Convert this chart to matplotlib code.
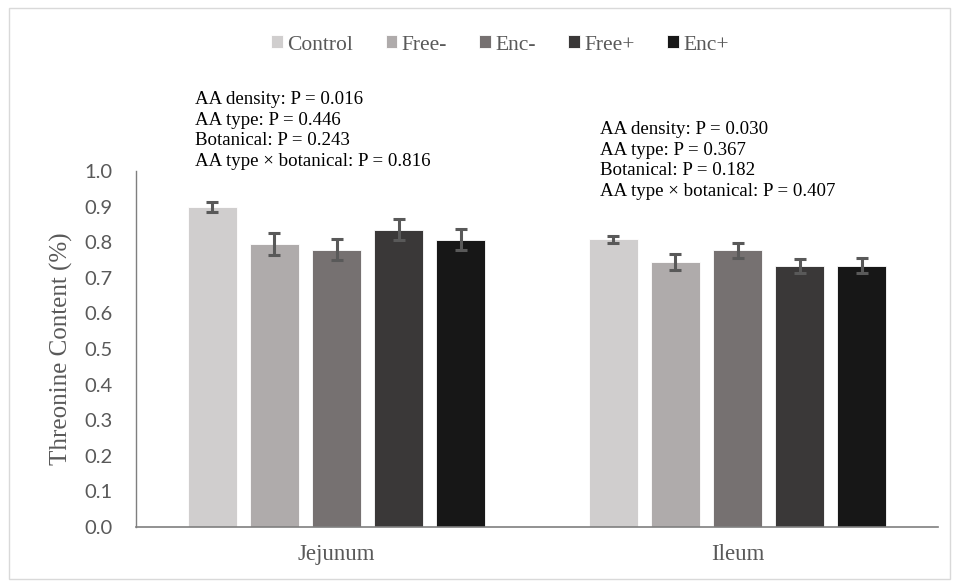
import numpy as np
import matplotlib
matplotlib.use('Agg')
import matplotlib.pyplot as plt
from matplotlib.patches import Rectangle

# data
sites = ['Jejunum', 'Ileum']
treatments = ['Control', 'Free-', 'Enc-', 'Free+', 'Enc+']
means = {
    'Control': [0.900, 0.808],
    'Free-':   [0.795, 0.744],
    'Enc-':    [0.779, 0.778],
    'Free+':   [0.835, 0.733],
    'Enc+':    [0.807, 0.734],
}
errs = {
    'Control': [0.014, 0.009],
    'Free-':   [0.032, 0.023],
    'Enc-':    [0.029, 0.021],
    'Free+':   [0.030, 0.020],
    'Enc+':    [0.029, 0.021],
}
colors = ['#D0CECE', '#AFABAB', '#767171', '#3A3838', '#171717']
stats_jej = ['AA density: P = 0.016', 'AA type: P = 0.446',
             'Botanical: P = 0.243', 'AA type \u00d7 botanical: P = 0.816']
stats_ile = ['AA density: P = 0.030', 'AA type: P = 0.367',
             'Botanical: P = 0.182', 'AA type \u00d7 botanical: P = 0.407']

serif = 'Liberation Serif'
grey_txt = '#595959'

W, H = 958, 584
fig = plt.figure(figsize=(W / 100, H / 100), dpi=100)
ax = fig.add_axes([136 / W, 1 - 527 / H, (938 - 136) / W, (527 - 171) / H])

# outer chart border
fig.patches.append(Rectangle((9 / W, 1 - 579 / H), 941 / W, 571 / H,
                             transform=fig.transFigure, fill=False,
                             edgecolor='#D9D9D9', linewidth=1))

x = np.arange(len(sites))
bw = 0.122
step = 0.155
for i, t in enumerate(treatments):
    pos = x + (i - 2) * step
    ax.bar(pos, means[t], width=bw, color=colors[i], label=t,
           edgecolor='white', linewidth=0.6, zorder=2)
    ax.errorbar(pos, means[t], yerr=errs[t], fmt='none', ecolor='#595959',
                elinewidth=2.2, capsize=4.5, capthick=2.2, zorder=3)

ax.set_xlim(-0.5, 1.5)
ax.set_ylim(0, 1.0)
ax.set_yticks(np.arange(0, 1.01, 0.1))
ax.set_yticklabels([f'{v:.1f}' for v in np.arange(0, 1.01, 0.1)],
                   fontsize=14.5, color=grey_txt, family='Lato')
ax.set_xticks(x)
ax.set_xticklabels(sites, fontsize=16.5, color=grey_txt, family=serif)
ax.tick_params(axis='both', length=0)
ax.tick_params(axis='x', pad=12)
ax.tick_params(axis='y', pad=17)

for s in ['top', 'right']:
    ax.spines[s].set_visible(False)
ax.spines['left'].set_color('#7F7F7F')
ax.spines['bottom'].set_color('#7F7F7F')
ax.spines['left'].set_linewidth(1)
ax.spines['bottom'].set_linewidth(1.2)

ax.set_ylabel('Threonine Content (%)', fontsize=18, color=grey_txt,
              family=serif, labelpad=8)

# stats annotations
fig.text(195 / W, 1 - 91 / H, '\n'.join(stats_jej), family=serif,
         fontsize=13.6, va='top', ha='left', linespacing=1.27)
fig.text(600 / W, 1 - 121 / H, '\n'.join(stats_ile), family=serif,
         fontsize=13.6, va='top', ha='left', linespacing=1.27)

leg = fig.legend(loc='center', bbox_to_anchor=(500 / W, 1 - 45 / H), ncol=5,
                 frameon=False, handlelength=0.55, handleheight=0.55,
                 handletextpad=0.2, columnspacing=1.5,
                 prop={'family': serif, 'size': 15.5})
for txt in leg.get_texts():
    txt.set_color(grey_txt)

fig.savefig('out.png', dpi=100)
